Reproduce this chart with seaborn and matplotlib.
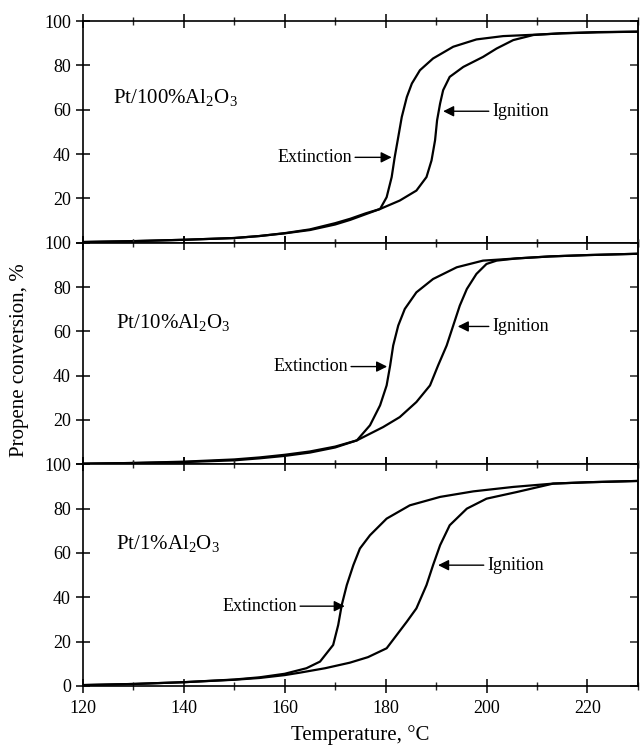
import matplotlib
matplotlib.use("Agg")
import matplotlib.pyplot as plt
import seaborn as sns
import pandas as pd
from matplotlib.ticker import MultipleLocator

# ---------------- data ----------------
panel_labels = ["Pt/100%Al$_2$O$_3$", "Pt/10%Al$_2$O$_3$", "Pt/1%Al$_2$O$_3$"]

# Panel 1: Pt/100%Al2O3
p1_ign_T = [120, 130, 140, 150, 155, 160, 165, 170, 173, 176, 178.9, 182.8, 186.1, 188.1, 189.1, 189.8, 190.2,
            190.8, 191.4, 192.7, 195.4, 199.3, 202, 205.3, 209.3, 215, 222, 230]
p1_ign_y = [0.3, 0.7, 1.3, 2.1, 3.0, 4.2, 5.7, 8.2, 10.3, 12.8, 15.2, 19.0, 23.5, 29.6, 37.1, 46.2, 55.2,
            62.8, 68.8, 74.8, 79.3, 83.8, 87.6, 91.4, 93.7, 94.5, 95.0, 95.2]
p1_ext_T = [120, 130, 140, 150, 155, 160, 165, 170, 173, 176, 178.9, 180.2, 181.2, 181.8, 182.5, 183.2, 184.2,
            185.2, 186.8, 189.4, 193.4, 198, 203.3, 209.3, 214.5, 222, 230]
p1_ext_y = [0.3, 0.7, 1.3, 2.1, 3.0, 4.3, 6.0, 8.8, 10.8, 13.2, 15.2, 20.5, 29.6, 38.6, 47.6, 56.7, 65.7,
            71.8, 77.8, 83.1, 88.4, 91.7, 93.2, 93.8, 94.4, 94.9, 95.2]

# Panel 2: Pt/10%Al2O3
p2_ext_T = [120, 130, 140, 150, 155, 160, 165, 170, 174.3, 176.9, 178.9, 180.2, 180.9, 181.5, 182.5, 183.8,
            186.1, 189.4, 194.1, 199.3, 206, 212.6, 220, 230]
p2_ext_y = [0.3, 0.6, 1.2, 2.2, 3.1, 4.3, 5.8, 8.0, 10.8, 17.6, 26.6, 35.6, 44.6, 53.6, 62.6, 70.1,
            77.6, 83.6, 88.9, 91.9, 92.9, 93.8, 94.4, 95.0]
p2_ign_T = [120, 130, 140, 150, 155, 160, 165, 170, 174.3, 179.5, 182.8, 186.1, 188.8, 190.4, 192.1, 193.4,
            194.7, 196.1, 198, 200, 202, 206, 212.6, 220, 230]
p2_ign_y = [0.3, 0.6, 1.0, 1.8, 2.7, 3.8, 5.3, 7.6, 10.8, 16.8, 21.3, 28.1, 35.6, 44.6, 53.6, 62.6,
            71.6, 79.1, 85.9, 90.4, 91.9, 92.9, 93.8, 94.4, 95.0]

# Panel 3: Pt/1%Al2O3
p3_ext_T = [120, 130, 140, 150, 155, 160, 164.3, 167, 169.6, 170.6, 171.3, 172.3, 173.6, 174.9, 176.9, 180.2,
            184.8, 190.8, 197.4, 205.3, 213.2, 220, 230]
p3_ext_y = [0.4, 0.9, 1.7, 2.9, 3.9, 5.5, 8.0, 11.0, 18.5, 27.5, 36.5, 45.5, 54.5, 62.0, 68.0, 75.5,
            81.5, 85.3, 87.8, 89.8, 91.3, 91.9, 92.5]
p3_ign_T = [120, 130, 140, 150, 155, 160, 163, 168, 172.9, 176.5, 180.2, 182.2, 184.2, 186.1, 188.1, 189.4,
            190.8, 192.7, 196.1, 200, 206, 213.2, 220, 230]
p3_ign_y = [0.4, 0.9, 1.7, 2.8, 3.6, 4.9, 6.0, 8.0, 10.5, 13.0, 17.0, 23.0, 29.0, 35.0, 45.5, 54.5,
            63.5, 72.5, 80.0, 84.5, 87.5, 91.3, 91.9, 92.5]

# annotation anchors (arrow tip, text position) per panel
ext_tip = [(181.2, 38.5), (180.3, 44.1), (171.9, 36.0)]
ext_txt = [(173.3, 38.5), (172.5, 44.1), (162.4, 36.0)]
ign_tip = [(191.4, 59.3), (194.3, 62.2), (190.4, 54.5)]
ign_txt = [(201.1, 59.3), (201.1, 62.2), (200.1, 54.5)]
label_pos = [(126.0, 65.6), (126.5, 64.0), (126.5, 64.4)]

xticks = [120, 140, 160, 180, 200, 220]
yticks = [0, 20, 40, 60, 80, 100]

# ---------------- style ----------------
sns.set_theme(style="ticks")
plt.rcParams["font.family"] = ["Liberation Serif", "DejaVu Serif"]
plt.rcParams["mathtext.fontset"] = "custom"
plt.rcParams["mathtext.rm"] = "Liberation Serif"
plt.rcParams["mathtext.it"] = "Liberation Serif:italic"
plt.rcParams["axes.linewidth"] = 1.2

fig, axes = plt.subplots(3, 1, figsize=(6.43, 7.51), dpi=100, sharex=True)
fig.subplots_adjust(left=0.129, right=0.992, top=0.972, bottom=0.0866, hspace=0)

curves = [
    ((p1_ext_T, p1_ext_y), (p1_ign_T, p1_ign_y)),
    ((p2_ext_T, p2_ext_y), (p2_ign_T, p2_ign_y)),
    ((p3_ext_T, p3_ext_y), (p3_ign_T, p3_ign_y)),
]

for i, ax in enumerate(axes):
    for (T, y) in curves[i]:
        df = pd.DataFrame({"T": T, "y": y})
        sns.lineplot(data=df, x="T", y="y", ax=ax, sort=False, estimator=None,
                     color="black", lw=1.6)
    ax.set_xlim(120, 230)
    ax.set_ylim(0, 100)
    ax.set_xlabel("")
    ax.set_ylabel("")
    for s in ax.spines.values():
        s.set_visible(True)
        s.set_color("black")
        s.set_linewidth(1.2)
    ax.set_xticks(xticks)
    ax.xaxis.set_minor_locator(MultipleLocator(10))
    ax.set_yticks(yticks)
    if i < 2:
        ax.set_yticklabels([""] + [str(v) for v in yticks[1:]])
    else:
        ax.set_yticklabels([str(v) for v in yticks])
    ax.tick_params(axis="x", which="major", direction="inout", length=9.5, width=1.1,
                   top=True, bottom=True, labelsize=13, pad=5, colors="black")
    ax.tick_params(axis="x", which="minor", direction="inout", length=5.5, width=1.0,
                   top=True, bottom=True)
    ax.tick_params(axis="y", which="major", direction="inout", length=9.5, width=1.1,
                   left=True, right=False, labelsize=13, pad=4, colors="black")
    sec = ax.secondary_yaxis("right")
    sec.set_yticks(yticks)
    sec.tick_params(axis="y", direction="in", length=5.5, width=1.1, labelright=False)
    sec.spines["right"].set_linewidth(1.2)

    lx, ly = label_pos[i]
    ax.text(lx, ly, panel_labels[i], fontsize=15, ha="left", va="center", color="black")

    ax.annotate("Extinction", xy=ext_tip[i], xytext=ext_txt[i], fontsize=13,
                ha="right", va="center", color="black",
                arrowprops=dict(arrowstyle="-|>", color="black", lw=1.0,
                                shrinkA=0, shrinkB=0, mutation_scale=16))
    ax.annotate("Ignition", xy=ign_tip[i], xytext=ign_txt[i], fontsize=13,
                ha="left", va="center", color="black",
                arrowprops=dict(arrowstyle="-|>", color="black", lw=1.0,
                                shrinkA=0, shrinkB=0, mutation_scale=16))

axes[2].set_xlabel("Temperature, \u00b0C", fontsize=15, labelpad=6, color="black")
fig.text(0.03, 0.52, "Propene conversion, %", rotation=90, fontsize=15,
         ha="center", va="center", color="black")

fig.savefig("out.png", dpi=100, facecolor="white")
